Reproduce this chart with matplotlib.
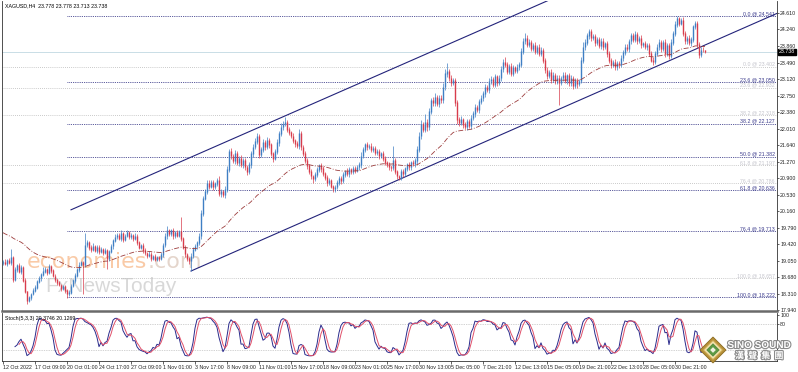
"""XAGUSD H4 chart in a MetaTrader look: candles, fib levels, channel, MA and Stoch(5,3,3)."""

import matplotlib

matplotlib.use("Agg")

import matplotlib.patheffects as pe  # noqa: E402
import matplotlib.pyplot as plt  # noqa: E402
import numpy as np  # noqa: E402
import pandas as pd  # noqa: E402
from matplotlib.patches import Polygon  # noqa: E402

plt.rcParams["font.family"] = ["Liberation Sans", "DejaVu Sans"]

# ---- data (one row = 16 H4 bars = one date label) ----
first_open = 19.00

closes = [
    19.02, 18.98, 19.05, 19.00, 19.12, 18.62, 18.85, 18.95, 18.80, 18.90, 18.60, 18.35, 18.15, 18.22, 18.30, 18.38,
    18.45, 18.58, 18.66, 18.74, 18.80, 18.85, 18.78, 18.92, 18.82, 18.70, 18.62, 18.55, 18.50, 18.42, 18.46, 18.38,
    18.30, 18.34, 18.48, 18.60, 18.72, 18.85, 18.95, 19.00, 18.95, 19.40, 19.45, 19.35, 19.30, 19.38, 19.28, 19.35,
    19.25, 19.30, 19.22, 19.28, 19.10, 19.25, 19.38, 19.50, 19.58, 19.62, 19.55, 19.66, 19.52, 19.60, 19.68, 19.58,
    19.62, 19.55, 19.60, 19.45, 19.35, 19.40, 19.28, 19.22, 19.15, 19.20, 19.10, 19.15, 19.08, 19.12, 19.10, 19.18,
    19.40, 19.60, 19.72, 19.65, 19.72, 19.60, 19.68, 19.62, 19.70, 19.55, 19.35, 19.20, 19.10, 19.05, 19.15, 19.30,
    19.38, 19.45, 19.60, 20.10, 20.45, 20.60, 20.78, 20.72, 20.80, 20.70, 20.78, 20.85, 20.55, 20.60, 20.52, 20.65,
    21.10, 21.50, 21.40, 21.30, 21.45, 21.25, 21.35, 21.20, 21.30, 21.15, 21.05, 21.20, 21.45, 21.60, 21.72, 21.85,
    21.42, 21.55, 21.70, 21.60, 21.75, 21.65, 21.45, 21.35, 21.50, 21.70, 21.90, 22.05, 22.12, 22.15, 22.00, 21.92,
    21.85, 21.75, 21.68, 21.62, 21.90, 21.60, 21.45, 21.30, 21.18, 21.05, 20.95, 20.88, 20.98, 21.10, 21.18, 21.12,
    21.00, 20.92, 20.80, 20.85, 20.72, 20.66, 20.70, 20.80, 20.90, 20.85, 20.98, 21.05, 21.00, 21.10, 21.05, 21.12,
    21.08, 21.15, 21.20, 21.40, 21.55, 21.65, 21.60, 21.62, 21.55, 21.58, 21.48, 21.50, 21.40, 21.45, 21.35, 21.25,
    21.20, 21.15, 21.13, 21.30, 21.05, 20.95, 20.92, 21.05, 21.00, 21.12, 21.20, 21.15, 21.25, 21.22, 21.30, 21.55,
    21.85, 22.10, 22.00, 22.15, 22.05, 22.40, 22.65, 22.60, 22.72, 22.58, 22.70, 22.66, 22.95, 23.25, 23.30, 23.15,
    23.05, 23.10, 22.60, 22.22, 22.15, 22.22, 22.10, 22.05, 22.18, 22.08, 22.25, 22.35, 22.50, 22.45, 22.62, 22.70,
    22.80, 22.95, 22.88, 23.08, 23.12, 23.00, 23.18, 23.05, 23.15, 23.35, 23.50, 23.45, 23.30, 23.42, 23.25, 23.38,
    23.32, 23.40, 23.45, 23.75, 23.98, 24.05, 23.90, 23.95, 23.82, 23.88, 23.75, 23.85, 23.70, 23.78, 23.55, 23.33,
    23.20, 23.28, 23.12, 23.22, 23.08, 23.15, 23.05, 23.15, 23.22, 23.10, 23.20, 23.05, 23.15, 22.98, 23.10, 23.02,
    23.08, 23.55, 23.85, 23.95, 24.10, 24.20, 24.05, 24.08, 23.95, 24.02, 23.88, 23.98, 23.85, 23.92, 23.70, 23.55,
    23.45, 23.50, 23.40, 23.48, 23.44, 23.60, 23.72, 23.85, 23.80, 23.98, 24.10, 24.02, 24.12, 23.98, 24.05, 23.90,
    23.92, 23.85, 23.88, 23.70, 23.55, 23.52, 23.70, 23.85, 23.95, 23.80, 23.95, 23.70, 23.88, 23.65, 23.95, 24.15,
    24.35, 24.50, 24.38, 24.45, 24.15, 23.98, 24.05, 23.95, 24.02, 24.30, 24.38, 23.90, 23.68, 23.78, 23.778, 23.738,
]

# upper / lower shadow of each candle, in cents beyond the body
wick_up = [
    4, 6, 3, 5, 20, 4, 6, 3, 5, 4, 3, 5, 2, 4, 3, 5,
    4, 3, 5, 4, 10, 5, 3, 6, 4, 3, 5, 2, 4, 3, 5, 4,
    3, 5, 4, 3, 5, 4, 6, 3, 5, 27, 6, 5, 4, 6, 3, 5,
    4, 6, 3, 5, 4, 3, 5, 4, 6, 5, 4, 7, 3, 5, 6, 4,
    5, 3, 6, 4, 5, 3, 4, 5, 3, 6, 4, 3, 5, 4, 3, 6,
    5, 6, 11, 4, 5, 6, 3, 5, 4, 33, 4, 5, 3, 4, 6, 5,
    4, 5, 6, 8, 6, 5, 7, 8, 5, 6, 4, 5, 10, 6, 4, 7,
    8, 6, 7, 5, 8, 6, 5, 7, 6, 5, 4, 6, 5, 7, 8, 7,
    4, 6, 8, 5, 7, 6, 5, 4, 6, 7, 5, 8, 6, 12, 5, 6,
    5, 6, 4, 5, 10, 5, 4, 6, 5, 4, 6, 3, 5, 6, 4, 7,
    5, 4, 6, 5, 4, 3, 5, 6, 4, 5, 6, 4, 7, 5, 4, 6,
    5, 4, 6, 8, 6, 5, 7, 4, 6, 5, 4, 6, 5, 4, 6, 5,
    4, 6, 5, 32, 5, 4, 3, 5, 6, 4, 5, 6, 4, 5, 6, 8,
    8, 10, 6, 20, 7, 8, 6, 7, 9, 5, 6, 7, 8, 10, 19, 6,
    7, 6, 5, 6, 5, 7, 4, 6, 5, 4, 6, 5, 7, 5, 6, 7,
    6, 7, 5, 6, 7, 5, 6, 4, 6, 7, 8, 12, 6, 5, 7, 6,
    5, 6, 7, 8, 7, 11, 6, 7, 5, 6, 7, 5, 6, 7, 5, 6,
    6, 5, 7, 6, 5, 6, 7, 5, 6, 7, 5, 6, 7, 5, 6, 5,
    5, 8, 10, 7, 6, 5, 6, 5, 7, 6, 5, 7, 6, 5, 6, 5,
    6, 5, 7, 5, 6, 7, 5, 6, 7, 5, 6, 7, 8, 6, 5, 7,
    5, 7, 6, 5, 6, 7, 5, 6, 7, 6, 5, 7, 6, 5, 7, 6,
    7, 4.1, 3, 5, 7, 6, 5, 7, 6, 5, 4, 6, 5, 6, 7, 0,
]

wick_dn = [
    5, 4, 6, 3, 5, 5, 4, 6, 3, 5, 4, 3, 8, 4, 5, 3,
    4, 5, 3, 6, 4, 3, 5, 4, 6, 3, 5, 4, 3, 5, 4, 6,
    8, 4, 5, 3, 6, 4, 5, 3, 65, 5, 4, 6, 5, 3, 4, 5,
    6, 4, 5, 3, 24, 5, 4, 6, 3, 5, 4, 6, 5, 4, 3, 5,
    4, 5, 3, 6, 4, 5, 6, 4, 5, 3, 6, 4, 5, 3, 6, 4,
    5, 4, 6, 5, 4, 6, 5, 3, 5, 6, 5, 6, 7, 8, 23, 5,
    4, 6, 5, 7, 6, 5, 6, 7, 5, 6, 4, 5, 6, 7, 5, 6,
    7, 6, 8, 5, 7, 6, 8, 5, 7, 6, 8, 5, 6, 7, 5, 6,
    6, 5, 7, 6, 5, 7, 6, 8, 5, 6, 7, 5, 6, 5, 7, 6,
    5, 6, 7, 5, 6, 7, 5, 6, 7, 5, 6, 8, 5, 6, 5, 7,
    6, 5, 7, 6, 5, 6, 7, 5, 6, 7, 5, 6, 5, 7, 6, 5,
    6, 5, 7, 6, 5, 7, 6, 5, 7, 6, 5, 7, 6, 5, 7, 6,
    5, 6, 7, 5, 6, 7, 6, 5, 7, 6, 5, 7, 6, 5, 6, 7,
    6, 8, 7, 6, 8, 7, 6, 8, 7, 6, 8, 7, 6, 8, 7, 6,
    7, 6, 8, 10, 7, 6, 8, 5, 7, 6, 8, 5, 7, 6, 8, 5,
    6, 7, 5, 6, 7, 5, 6, 7, 5, 6, 7, 5, 6, 7, 5, 6,
    6, 5, 7, 6, 5, 7, 6, 5, 7, 6, 5, 7, 6, 5, 7, 6,
    7, 6, 8, 5, 7, 6, 50, 5, 7, 6, 8, 9, 7, 8, 6, 10,
    6, 5, 7, 6, 5, 7, 6, 5, 7, 6, 5, 7, 6, 5, 7, 6,
    7, 5, 8, 6, 6, 5, 7, 6, 5, 7, 6, 5, 7, 6, 5, 7,
    6, 5, 7, 6, 5, 7, 6, 5, 7, 6, 5, 7, 6, 8, 5, 6,
    5, 6, 7, 5, 6, 7, 6, 5, 7, 6, 5, 7, 8, 6, 5, 2.5,
]

ma_seed = 19.70      # MA value at the left edge
ma_span = 55

# Fibonacci drawn on the swing 18.222 -> 24.541 (starts at bar 32)
fib_start = 32
fib_levels = ["0.0", "23.6", "38.2", "50.0", "61.8", "76.4", "100.0"]
fib_prices = [24.541, 23.050, 22.127, 21.382, 20.636, 19.713, 18.222]

# older, faint fib set that spans the whole chart
old_fib_levels = ["0.0", "23.6", "38.2", "61.8", "76.4", "100.0"]
old_fib_prices = [23.402, 22.932, 22.318, 21.197, 20.786, 18.657]

# equidistant channel: (bar, price) anchors of each line
upper_bars, upper_prices = [34, 273], [20.19, 24.90]
lower_bars, lower_prices = [94, 355], [18.815, 23.97]

price_ticks = [24.610, 24.240, 23.860, 23.490, 23.120, 22.750, 22.380, 22.010, 21.640, 21.270,
               20.900, 20.530, 20.160, 19.790, 19.420, 19.050, 18.680, 18.310, 17.940]
last_price = 23.738

stoch_ticks = [100, 80]

date_labels = ["12 Oct 2022", "17 Oct 09:00", "20 Oct 01:00", "24 Oct 17:00", "27 Oct 09:00",
               "1 Nov 01:00", "3 Nov 17:00", "8 Nov 09:00", "11 Nov 01:00", "15 Nov 17:00",
               "18 Nov 09:00", "23 Nov 01:00", "25 Nov 17:00", "30 Nov 13:00", "5 Dec 05:00",
               "7 Dec 21:00", "12 Dec 13:00", "15 Dec 05:00", "19 Dec 21:00", "22 Dec 13:00",
               "28 Dec 05:00", "30 Dec 21:00"]
bars_per_label = 16

# ---- styling ----
UP = "#3f7fc4"
DOWN = "#d83c4c"
NAVY = "#23237a"
MA_COLOR = "#9c3c3c"
FS = 3.8

W, H = 798, 372


def fig_box(x0, y0, x1, y1):
    """Pixel box (top-left origin) -> figure-fraction rect."""
    return [x0 / W, 1 - y1 / H, (x1 - x0) / W, (y1 - y0) / H]


closes = np.array(closes)
n = len(closes)
x = np.arange(n)
opens = np.r_[first_open, closes[:-1]]
body_top = np.maximum(opens, closes)
body_bot = np.minimum(opens, closes)
highs = body_top + np.array(wick_up) / 100
lows = body_bot - np.array(wick_dn) / 100
colors = np.where(closes >= opens, UP, DOWN)

ma = pd.Series(np.r_[ma_seed, closes]).ewm(span=ma_span, adjust=False).mean().to_numpy()[1:]

hh = pd.Series(highs).rolling(5).max()
ll = pd.Series(lows).rolling(5).min()
cl = pd.Series(closes)
stoch_k = 100 * (cl - ll).rolling(3).sum() / (hh - ll).rolling(3).sum()
stoch_d = stoch_k.rolling(3).mean()

fig = plt.figure(figsize=(W / 100, H / 100), dpi=100)
fig.patch.set_facecolor("white")
ax = fig.add_axes(fig_box(2, 1, 777, 311))
ax2 = fig.add_axes(fig_box(2, 313, 777, 361), sharex=ax)

xmax = 387
ax.set_xlim(-0.5, xmax)
ax.set_ylim(17.917, 24.88)

# watermark
econ = ax.text(0.032, 0.14, "economies", transform=ax.transAxes, fontsize=16, color="#f7b98a",
               alpha=0.75, zorder=0, family="DejaVu Sans")
ax.annotate(".com", xy=(1, 0), xycoords=econ, ha="left", va="bottom", fontsize=16,
            color="#dcc8bb", alpha=0.75, zorder=0, family="DejaVu Sans")
ax.text(0.056, 0.062, "FxNewsToday", transform=ax.transAxes, fontsize=15, color="#cfcfcf",
        alpha=0.8, zorder=0)

# faint old fib + current price line
for lvl, p in zip(old_fib_levels, old_fib_prices):
    ax.hlines(p, -0.5, xmax, colors="#b9b9b9", lw=0.6, linestyles=(0, (1, 1.5)), zorder=1)
    ax.text(0.997, p, f"{lvl} @ {p:.3f}", transform=ax.get_yaxis_transform(), ha="right",
            va="bottom", fontsize=FS, color="#c4c4cc", zorder=1)
ax.axhline(last_price, color="#c9dde6", lw=0.7, zorder=1)

# main fib
for lvl, p in zip(fib_levels, fib_prices):
    ax.hlines(p, fib_start, xmax, colors=NAVY, lw=0.6, linestyles=(0, (1, 1.2)), zorder=2)
    ax.text(0.997, p, f"{lvl} @ {p:.3f}", transform=ax.get_yaxis_transform(), ha="right",
            va="bottom", fontsize=FS, color="#3a3a8c", zorder=2)

# channel
for bars, prices in ((upper_bars, upper_prices), (lower_bars, lower_prices)):
    slope = (prices[1] - prices[0]) / (bars[1] - bars[0])
    xs = np.array([bars[0], xmax])
    ax.plot(xs, prices[0] + (xs - bars[0]) * slope, color=NAVY, lw=0.8, zorder=3)

# candles
ax.vlines(x, lows, highs, colors=colors, lw=0.5, zorder=4)
ax.vlines(x, body_bot - 0.008, body_top + 0.008, colors=colors, lw=1.0, zorder=4)

ax.plot(x, ma, color=MA_COLOR, lw=0.6, ls=(0, (6, 2, 1, 2)), zorder=5)

ax.text(0.004, 0.992, "XAGUSD,H4  23.778 23.778 23.713 23.738", transform=ax.transAxes,
        ha="left", va="top", fontsize=FS, color="black")

ax.yaxis.tick_right()
ax.set_yticks(price_ticks)
ax.set_yticklabels([f"{t:.3f}" for t in price_ticks])
ax.tick_params(axis="y", length=1.5, width=0.5, labelsize=FS, pad=0.8, colors="#222222")
ax.tick_params(axis="x", bottom=False, labelbottom=False)
ax.text(1.0025, last_price, f"{last_price:.3f}", transform=ax.get_yaxis_transform(),
        ha="left", va="center", fontsize=FS, color="white", zorder=10, clip_on=False,
        bbox=dict(boxstyle="square,pad=0.12", fc="black", ec="black"))

for side in ("left", "right", "top"):
    ax.spines[side].set_linewidth(0.6)
    ax.spines[side].set_color("#333333")
ax.spines["top"].set_visible(False)
ax.spines["bottom"].set_linewidth(1.8)
ax.spines["bottom"].set_color("#6a6a6a")

# stochastic panel
ax2.set_ylim(-5, 105)
for lv in (80, 20):
    ax2.axhline(lv, color="#a8a8a8", lw=0.5, ls=(0, (1, 1.5)))
ax2.plot(x, stoch_k, color="#2b2b8c", lw=0.7)
ax2.plot(x, stoch_d, color="#e0506a", lw=0.7)
ax2.text(0.004, 0.93, "Stoch(5,3,3) 20.3746 20.1269", transform=ax2.transAxes,
         ha="left", va="top", fontsize=FS, color="black")
ax2.yaxis.tick_right()
ax2.set_yticks(stoch_ticks)
ax2.set_yticklabels([str(t) for t in stoch_ticks])
ax2.tick_params(axis="y", length=1.5, width=0.5, labelsize=FS, pad=0.8, colors="#222222")
ax2.set_xticks(np.arange(len(date_labels)) * bars_per_label)
ax2.set_xticklabels(date_labels)
ax2.tick_params(axis="x", length=2, width=0.5, labelsize=FS, pad=1.2, colors="#222222")
for lab in ax2.get_xticklabels():
    lab.set_horizontalalignment("left")
for side in ("left", "right", "bottom"):
    ax2.spines[side].set_linewidth(0.6)
    ax2.spines[side].set_color("#333333")
ax2.spines["top"].set_visible(False)

# Sino Sound logo, bottom right
logo = fig.add_axes([0, 0, 1, 1], zorder=20)
logo.set_xlim(0, W)
logo.set_ylim(H, 0)
logo.axis("off")
cx, cy, r = 713, 350, 13
diamond = lambda s: [(cx, cy - s), (cx + s, cy), (cx, cy + s), (cx - s, cy)]  # noqa: E731
logo.add_patch(Polygon(diamond(r), closed=True, fc="#b8923a", ec="#8a6a20", lw=0.6))
logo.add_patch(Polygon(diamond(r * 0.72), closed=True, fc="#f3e3b0", ec="#d8b860", lw=0.5))
logo.add_patch(Polygon(diamond(r * 0.48), closed=True, fc="#5c9a44", ec="#3f7a30", lw=0.4))
logo.add_patch(Polygon(diamond(r * 0.22), closed=True, fc="#f0f0e0", ec="none"))
stroke = [pe.withStroke(linewidth=1.6, foreground="#8a8a8a")]
logo.text(759, 345, "SINO SOUND", ha="center", va="center", fontsize=7.2, fontweight="bold",
          color="white", path_effects=stroke)
logo.text(759, 356, "漢  聲  集  團", ha="center", va="center", fontsize=6.5, fontweight="bold",
          color="white", family=["Noto Sans CJK TC", "DejaVu Sans"], path_effects=stroke)

fig.savefig("out.png", dpi=100)
plt.close(fig)
